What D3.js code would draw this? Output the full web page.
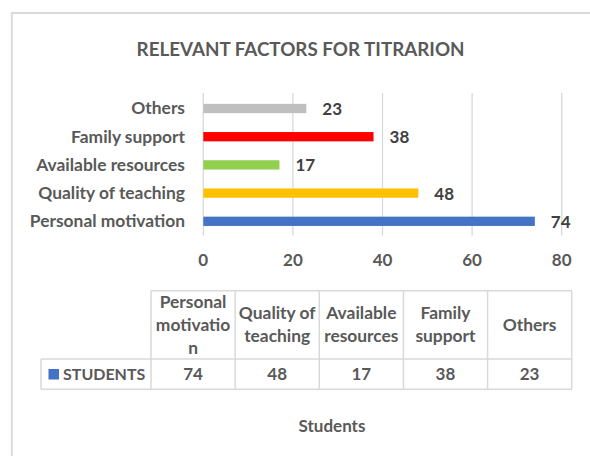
<!DOCTYPE html>
<html>
<head>
<meta charset="utf-8">
<script src="https://cdn.jsdelivr.net/npm/d3@7"></script>
<style>
  body { margin: 0; background: #fff; }
  text { font-family: Lato, Carlito, Calibri, sans-serif; font-weight: bold; }
</style>
</head>
<body>
<svg id="chart" width="590" height="456"></svg>
<script>
// data
const categories = ['Personal motivation', 'Quality of teaching', 'Available resources', 'Family support', 'Others']
const values = [74, 48, 17, 38, 23]
const barColors = ['#4472c4', '#ffc000', '#92d050', '#ff0000', '#bfbfbf']
const tickValues = [0, 20, 40, 60, 80]
const headerLines = [['Personal', 'motivatio', 'n'], ['Quality of', 'teaching'], ['Available', 'resources'], ['Family', 'support'], ['Others']]
const seriesName = 'STUDENTS'
const chartTitle = 'RELEVANT FACTORS FOR TITRARION'
const axisTitle = 'Students'

const data = categories.map((c, i) => ({ cat: c, val: values[i], color: barColors[i] }))

const svg = d3.select('#chart')
const grid = '#d9d9d9'
const labelCol = '#595959'
const fs = 17.4

// chart frame (runs off the right and bottom edges)
svg.append('path')
  .attr('d', 'M11.8,470 V13 H600')
  .attr('fill', 'none')
  .attr('stroke', grid)
  .attr('stroke-width', 1.8)

svg.append('text')
  .attr('x', 300.6)
  .attr('y', 55.7)
  .attr('text-anchor', 'middle')
  .attr('font-size', 18.8)
  .attr('fill', labelCol)
  .text(chartTitle)

const x = d3.scaleLinear()
  .domain([0, 80])
  .range([203.3, 561.7])

const y = d3.scaleBand()
  .domain(categories.slice().reverse())
  .range([94.4, 235.4])
  .paddingInner(0.67)
  .paddingOuter(0.335)

//* * gridlines
svg.selectAll('.grid')
  .data(tickValues)
  .enter().append('line')
  .attr('class', 'grid')
  .attr('x1', d => x(d))
  .attr('x2', d => x(d))
  .attr('y1', 93)
  .attr('y2', 235.5)
  .attr('stroke', grid)
  .attr('stroke-width', 1.3)

//* * tick labels
svg.selectAll('.tick')
  .data(tickValues)
  .enter().append('text')
  .attr('class', 'tick')
  .attr('x', d => x(d))
  .attr('y', 266)
  .attr('text-anchor', 'middle')
  .attr('font-size', 17)
  .attr('fill', labelCol)
  .text(d => d)

//* * bars
svg.selectAll('.bar')
  .data(data)
  .enter().append('rect')
  .attr('class', 'bar')
  .attr('x', x(0))
  .attr('y', d => y(d.cat))
  .attr('width', d => x(d.val) - x(0))
  .attr('height', y.bandwidth())
  .attr('fill', d => d.color)

//* * value labels
svg.selectAll('.val')
  .data(data)
  .enter().append('text')
  .attr('class', 'val')
  .attr('x', d => x(d.val) + 16)
  .attr('y', d => y(d.cat) + y.bandwidth() / 2 + 6.5)
  .attr('font-size', 17)
  .attr('fill', '#404040')
  .text(d => d.val)

//* * category labels
svg.selectAll('.cat')
  .data(data)
  .enter().append('text')
  .attr('class', 'cat')
  .attr('x', 185)
  .attr('y', d => y(d.cat) + y.bandwidth() / 2 + 5.9)
  .attr('text-anchor', 'end')
  .attr('font-size', fs)
  .attr('fill', labelCol)
  .text(d => d.cat)

//* * data table
const col = d3.scaleBand()
  .domain(categories)
  .range([151, 571.7])

const tTop = 290.7
const tMid = 359
const tBot = 389.3
const tLeft = 41
const lineH = 23

const tbl = svg.append('g')
  .attr('stroke', grid)
  .attr('stroke-width', 1.5)

tbl.append('line').attr('x1', col.range()[0]).attr('x2', col.range()[1]).attr('y1', tTop).attr('y2', tTop)
tbl.append('line').attr('x1', tLeft).attr('x2', col.range()[1]).attr('y1', tMid).attr('y2', tMid)
tbl.append('line').attr('x1', tLeft).attr('x2', col.range()[1]).attr('y1', tBot).attr('y2', tBot)
tbl.append('line').attr('x1', tLeft).attr('x2', tLeft).attr('y1', tMid).attr('y2', tBot)

tbl.selectAll('.vline')
  .data(categories.map(c => col(c)).concat([col.range()[1]]))
  .enter().append('line')
  .attr('class', 'vline')
  .attr('x1', d => d)
  .attr('x2', d => d)
  .attr('y1', tTop)
  .attr('y2', tBot)

// header cells
const heads = svg.selectAll('.head')
  .data(data)
  .enter().append('text')
  .attr('class', 'head')
  .attr('text-anchor', 'middle')
  .attr('font-size', fs)
  .attr('fill', labelCol)

heads.each(function (d, i) {
  const lines = headerLines[i]
  const cx = col(d.cat) + col.bandwidth() / 2
  const base = (tTop + tMid) / 2 + 5.9 - (lines.length - 1) * lineH / 2
  d3.select(this).selectAll('tspan')
    .data(lines)
    .enter().append('tspan')
    .attr('x', cx)
    .attr('y', (l, j) => base + j * lineH)
    .text(l => l)
})

// value cells
svg.selectAll('.cell')
  .data(data)
  .enter().append('text')
  .attr('class', 'cell')
  .attr('x', d => col(d.cat) + col.bandwidth() / 2)
  .attr('y', 379.8)
  .attr('text-anchor', 'middle')
  .attr('font-size', 17)
  .attr('fill', labelCol)
  .text(d => d.val)

// legend key + series name
svg.append('rect')
  .attr('x', 48.5)
  .attr('y', 369)
  .attr('width', 10.5)
  .attr('height', 10.5)
  .attr('fill', barColors[0])

svg.append('text')
  .attr('x', 63)
  .attr('y', 379.8)
  .attr('font-size', 16)
  .attr('fill', labelCol)
  .text(seriesName)

svg.append('text')
  .attr('x', 332)
  .attr('y', 431.7)
  .attr('text-anchor', 'middle')
  .attr('font-size', 17)
  .attr('fill', labelCol)
  .text(axisTitle)
</script>
</body>
</html>
